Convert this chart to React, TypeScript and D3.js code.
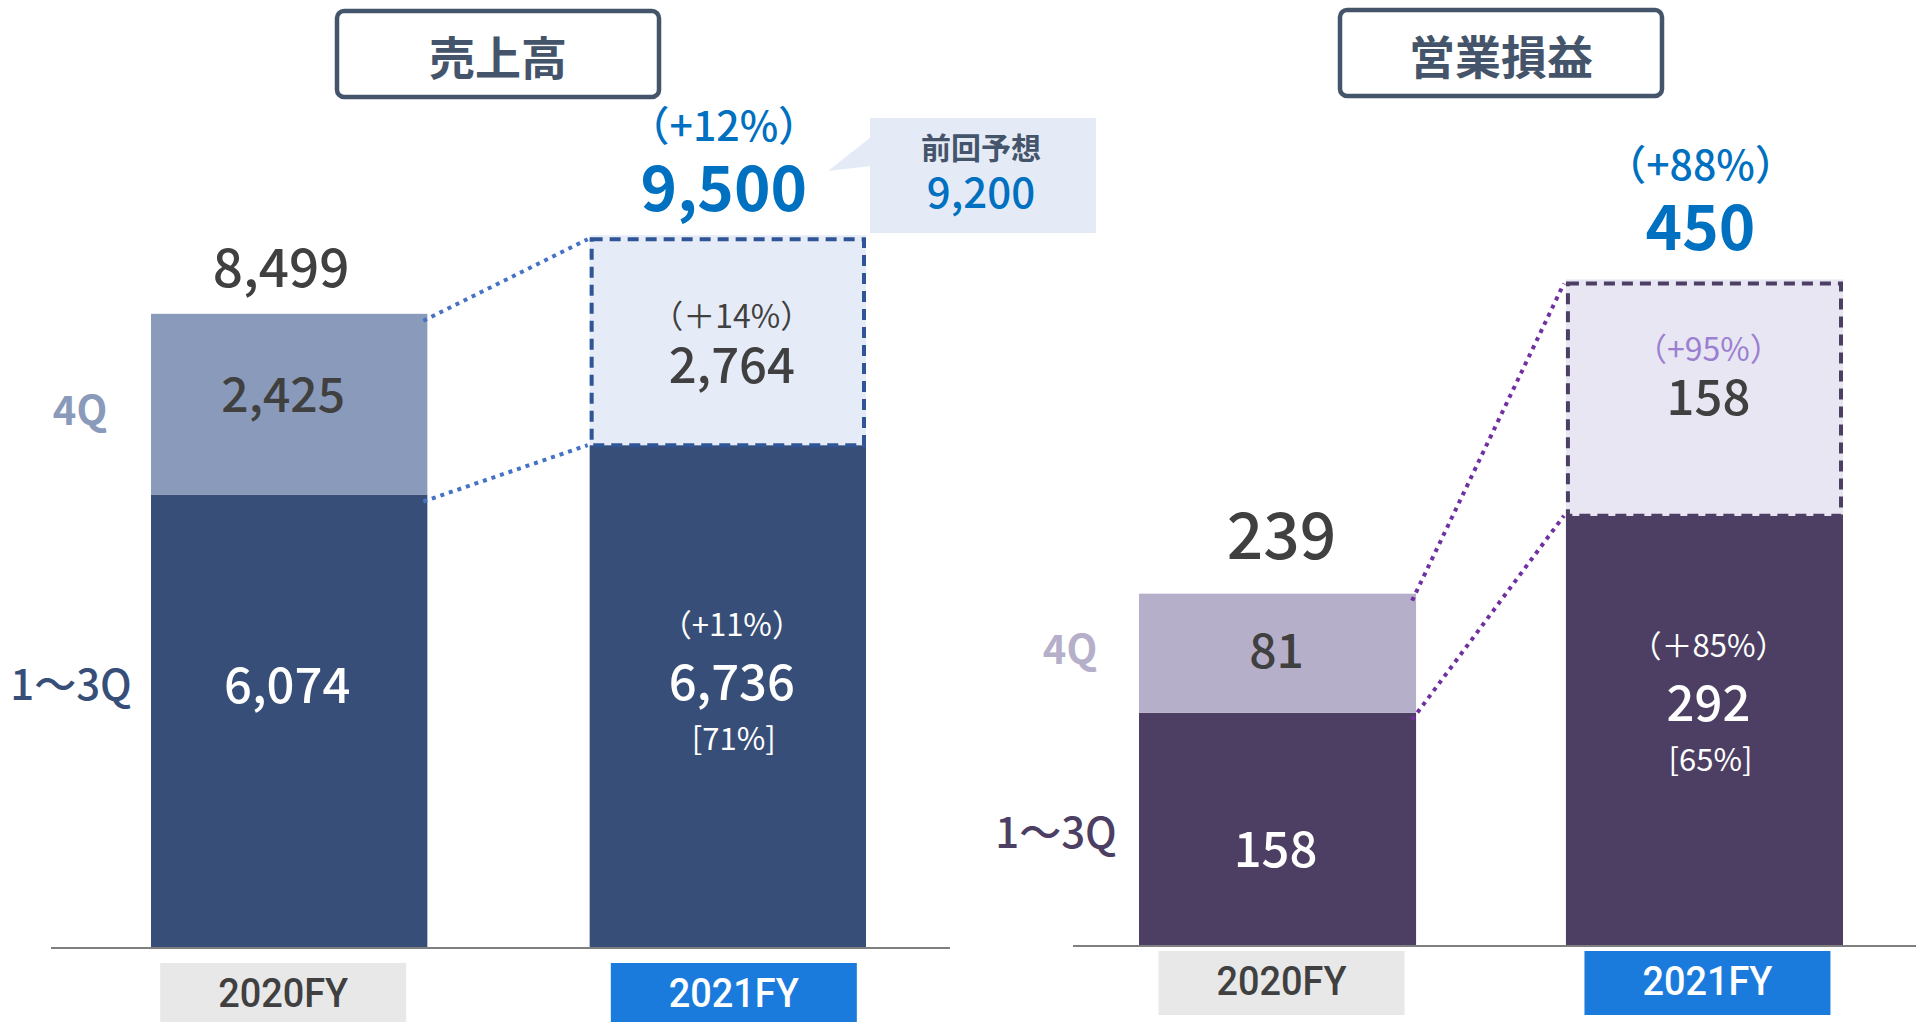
import React from "react";
import * as d3 from "d3";

// ---- data ----
const years = ["2020FY", "2021FY"];
const salesQ13 = [6074, 6736];
const salesQ4 = [2425, 2764];
const salesTotal = [8499, 9500];
const salesGrowthTotal = "（+12%）";
const salesGrowthQ4 = "（＋14%）";
const salesGrowthQ13 = "（+11%）";
const salesShareQ13 = "[71%]";
const salesPrevForecast = 9200;

const profitQ13 = [158, 292];
const profitQ4 = [81, 158];
const profitTotal = [239, 450];
const profitGrowthTotal = "（+88%）";
const profitGrowthQ4 = "（+95%）";
const profitGrowthQ13 = "（＋85%）";
const profitShareQ13 = "[65%]";

const segLabels = ["4Q", "1〜3Q"];
const titles = ["売上高", "営業損益"];

const FONT = "'Noto Sans CJK JP', 'Noto Sans', sans-serif";
const fmt = d3.format(",");

const W = 1916;
const H = 1022;

type PanelProps = {
  x0: number;
  x1: number;
  pad: number;
  yBase: number;
  pxPerUnit: number;
  q13: number[];
  q4: number[];
  total: number[];
  cDark: string;
  cLight: string;
  cBoxFill: string;
  cBoxStroke: string;
  cConnector: string;
  cLabel4Q: string;
  cLabel13: string;
  cGrowthQ4: string;
  growthTotal: string;
  growthQ4: string;
  growthQ13: string;
  shareQ13: string;
  totalSize0: number;
  totalDx0: number;
  totalDy0: number;
  q4Dx0: number;
  q4Dy0: number;
  q13LabelDy0: number;
  q13LabelDy1: number;
  q4GrowthDy1: number;
  q4ValueDy1: number;
  topDy1: number;
  axisX: [number, number];
  catBoxY: number;
  catBoxH: number;
  catBoxW: number;
  catDx: number[];
  segLabelX: number;
  segLabel13X: number;
  segLabel4Dy: number;
  segLabel13Dy: number;
};

function Panel(p: PanelProps) {
  const x = d3.scaleBand<string>().domain(years).range([p.x0, p.x1]).paddingInner(p.pad).paddingOuter(0);
  const maxV = 10000;
  const y = d3.scaleLinear().domain([0, maxV]).range([p.yBase, p.yBase - p.pxPerUnit * maxV]);
  const bw = x.bandwidth();
  const xa = x(years[0])!;
  const xb = x(years[1])!;
  const ca = xa + bw / 2;
  const cb = xb + bw / 2;

  const yA13 = y(p.q13[0]);
  const yAtop = y(p.q13[0] + p.q4[0]);
  const yB13 = y(p.q13[1]);
  const yBtop = y(p.q13[1] + p.q4[1]);
  const midA4 = (yA13 + yAtop) / 2;
  const midA13 = (yA13 + p.yBase) / 2;
  const midB4 = (yB13 + yBtop) / 2;
  const midB13 = (yB13 + p.yBase) / 2;

  return (
    <g>
      {/* bars 2020 */}
      <rect x={xa} y={yA13} width={bw} height={p.yBase - yA13} fill={p.cDark} />
      <rect x={xa} y={yAtop} width={bw} height={yA13 - yAtop} fill={p.cLight} />
      {/* bars 2021 */}
      <rect x={xb} y={yB13} width={bw} height={p.yBase - yB13} fill={p.cDark} />
      <rect x={xb} y={yBtop - 4} width={bw} height={yB13 - yBtop + 4} fill={p.cBoxFill} />
      <rect
        x={xb + 2}
        y={yBtop}
        width={bw - 4}
        height={yB13 - yBtop}
        fill="none"
        stroke={p.cBoxStroke}
        strokeWidth={4}
        strokeDasharray="11 7"
      />
      {/* connectors */}
      <line x1={xa + bw - 4} y1={yAtop + 7} x2={xb - 2} y2={yBtop} stroke={p.cConnector} strokeWidth={4} strokeDasharray="4 5" />
      <line x1={xa + bw - 4} y1={yA13 + 7} x2={xb - 2} y2={yB13} stroke={p.cConnector} strokeWidth={4} strokeDasharray="4 5" />
      {/* axis */}
      <line x1={p.axisX[0]} x2={p.axisX[1]} y1={p.yBase + 1} y2={p.yBase + 1} stroke="#7f7f7f" strokeWidth={2} />

      {/* value labels 2020 */}
      <text x={ca + p.totalDx0} y={yAtop + p.totalDy0} fontSize={p.totalSize0} fontWeight={500} fill="#404040" textAnchor="middle" dominantBaseline="central">
        {fmt(p.total[0])}
      </text>
      <text x={ca + p.q4Dx0} y={midA4 + p.q4Dy0} fontSize={48} fontWeight={500} fill="#404040" textAnchor="middle" dominantBaseline="central">
        {fmt(p.q4[0])}
      </text>
      <text x={ca - 2} y={midA13 + p.q13LabelDy0} fontSize={49} fontWeight={500} fill="#ffffff" textAnchor="middle" dominantBaseline="central">
        {fmt(p.q13[0])}
      </text>

      {/* value labels 2021 */}
      <text x={cb - 4} y={yBtop - 116 + p.topDy1} fontSize={41} fontWeight={500} fill="#0070c0" textAnchor="middle" dominantBaseline="central">
        {p.growthTotal}
      </text>
      <text x={cb - 4} y={yBtop - 55 + p.topDy1} fontSize={62} fontWeight={700} fill="#0070c0" textAnchor="middle" dominantBaseline="central">
        {fmt(p.total[1])}
      </text>
      <text x={cb + 4} y={midB4 + p.q4GrowthDy1} fontSize={32} fontWeight={400} fill={p.cGrowthQ4} textAnchor="middle" dominantBaseline="central">
        {p.growthQ4}
      </text>
      <text x={cb + 4} y={midB4 + p.q4ValueDy1} fontSize={49} fontWeight={500} fill="#404040" textAnchor="middle" dominantBaseline="central">
        {fmt(p.q4[1])}
      </text>
      <text x={cb + 4} y={midB13 + p.q13LabelDy1 - 56} fontSize={31} fontWeight={400} fill="#ffffff" textAnchor="middle" dominantBaseline="central">
        {p.growthQ13}
      </text>
      <text x={cb + 4} y={midB13 + p.q13LabelDy1} fontSize={49} fontWeight={500} fill="#ffffff" textAnchor="middle" dominantBaseline="central">
        {fmt(p.q13[1])}
      </text>
      <text x={cb + 6} y={midB13 + p.q13LabelDy1 + 58} fontSize={31} fontWeight={400} fill="#ffffff" textAnchor="middle" dominantBaseline="central">
        {p.shareQ13}
      </text>

      {/* segment labels */}
      <text x={p.segLabelX} y={midA4 + p.segLabel4Dy} fontSize={40} fontWeight={700} fill={p.cLabel4Q} textAnchor="middle" dominantBaseline="central">
        {segLabels[0]}
      </text>
      <text x={p.segLabel13X} y={midA13 + p.segLabel13Dy} fontSize={42} fontWeight={500} fill={p.cLabel13} textAnchor="middle" dominantBaseline="central">
        {segLabels[1]}
      </text>

      {/* category labels */}
      {years.map((yr, i) => {
        const c = (i === 0 ? ca : cb) + p.catDx[i];
        return (
          <g key={yr}>
            <rect x={c - p.catBoxW / 2} y={p.catBoxY} width={p.catBoxW} height={p.catBoxH} fill={i === 0 ? "#e8e8e8" : "#1a7bdc"} />
            <text
              x={c}
              y={p.catBoxY + 30}
              fontSize={40}
              fontWeight={500}
              fontFamily="Roboto, 'Liberation Sans', sans-serif"
              fill={i === 0 ? "#404040" : "#ffffff"}
              textAnchor="middle"
              dominantBaseline="central"
              textLength={130}
              lengthAdjust="spacingAndGlyphs"
            >
              {yr}
            </text>
          </g>
        );
      })}
    </g>
  );
}

function TitleBox({ cx, y, text }: { cx: number; y: number; text: string }) {
  const w = 322;
  const h = 86;
  return (
    <g>
      <rect x={cx - w / 2} y={y} width={w} height={h} rx={7} fill="#ffffff" stroke="#44546a" strokeWidth={4.5} />
      <text x={cx} y={y + h / 2 + 1} fontSize={46} fontWeight={700} fill="#44546a" textAnchor="middle" dominantBaseline="central">
        {text}
      </text>
    </g>
  );
}

export default function App() {
  return (
    <svg
      width={W}
      height={H}
      viewBox={`0 0 ${W} ${H}`}
      style={{ position: "absolute", left: 0, top: 0, display: "block", background: "#ffffff" }}
      fontFamily={FONT}
    >
      <TitleBox cx={498} y={11} text={titles[0]} />
      <TitleBox cx={1501} y={10} text={titles[1]} />

      {/* previous forecast callout */}
      <g>
        <rect x={870} y={118} width={226} height={115} fill="#e5ebf6" />
        <polygon points="871,137 828,171 871,166" fill="#e5ebf6" />
        <text x={981} y={146} fontSize={30} fontWeight={700} fill="#44546a" textAnchor="middle" dominantBaseline="central">
          前回予想
        </text>
        <text x={981} y={189} fontSize={42} fontWeight={500} fill="#0070c0" textAnchor="middle" dominantBaseline="central">
          {fmt(salesPrevForecast)}
        </text>
      </g>

      <Panel
        x0={151}
        x1={866}
        pad={0.37}
        yBase={947}
        pxPerUnit={0.0745}
        q13={salesQ13}
        q4={salesQ4}
        total={salesTotal}
        cDark="#374f78"
        cLight="#8a9aba"
        cBoxFill="#e6ecf7"
        cBoxStroke="#2f5597"
        cConnector="#4472c4"
        cLabel4Q="#8a9aba"
        cLabel13="#374f78"
        cGrowthQ4="#404040"
        growthTotal={salesGrowthTotal}
        growthQ4={salesGrowthQ4}
        growthQ13={salesGrowthQ13}
        shareQ13={salesShareQ13}
        totalSize0={53}
        totalDx0={-8}
        totalDy0={-50}
        q4Dx0={-6}
        q4Dy0={-13}
        q13LabelDy0={-39}
        q13LabelDy1={-18}
        q4GrowthDy1={-28}
        q4ValueDy1={19}
        topDy1={0}
        axisX={[51, 950]}
        catBoxY={963}
        catBoxH={64}
        catBoxW={246}
        catDx={[-6, 6]}
        segLabelX={80}
        segLabel13X={71}
        segLabel4Dy={4}
        segLabel13Dy={-39}
      />
      <Panel
        x0={1139}
        x1={1843}
        pad={0.351}
        yBase={945}
        pxPerUnit={1.47}
        q13={profitQ13}
        q4={profitQ4}
        total={profitTotal}
        cDark="#4d3f64"
        cLight="#b5afca"
        cBoxFill="#e8e6f2"
        cBoxStroke="#4d3f64"
        cConnector="#7030a0"
        cLabel4Q="#b5afca"
        cLabel13="#4d3f64"
        cGrowthQ4="#9b7fd1"
        growthTotal={profitGrowthTotal}
        growthQ4={profitGrowthQ4}
        growthQ13={profitGrowthQ13}
        shareQ13={profitShareQ13}
        totalSize0={64}
        totalDx0={4}
        totalDy0={-63}
        q4Dx0={-1}
        q4Dy0={-6}
        q13LabelDy0={17}
        q13LabelDy1={-31}
        q4GrowthDy1={-53}
        q4ValueDy1={-6}
        topDy1={-6}
        axisX={[1073, 1916]}
        catBoxY={951}
        catBoxH={64}
        catBoxW={246}
        catDx={[4, 3]}
        segLabelX={1070}
        segLabel13X={1056}
        segLabel4Dy={-6}
        segLabel13Dy={1}
      />
    </svg>
  );
}
